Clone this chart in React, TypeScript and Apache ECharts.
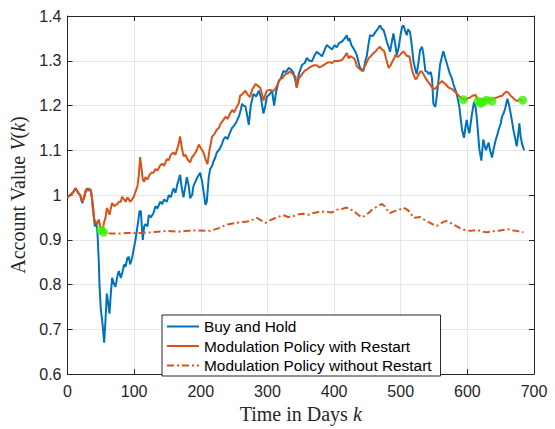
import React, { useEffect, useRef } from "react";
import * as echarts from "echarts";

const xTicks = { min: 0, max: 700, step: 100 };
const yTicks = { min: 0.6, max: 1.4, step: 0.1 };

const seriesNames = [
  "Buy and Hold",
  "Modulation Policy with Restart",
  "Modulation Policy without Restart",
];

const buyHold: [number, number][] = [
  [0, 0.995], [4, 1.0], [8, 1.005], [12, 1.015], [16, 1.005], [19, 1.0], [22, 0.982], [25, 0.995],
  [29, 1.015], [32, 1.01], [35, 1.012], [37, 0.99], [39, 0.965], [41, 0.93], [43, 0.94], [45, 0.915],
  [47, 0.85], [48, 0.8], [50, 0.745], [52, 0.72], [53, 0.705], [55, 0.67], [57, 0.72], [59, 0.78],
  [61, 0.76], [63, 0.735], [65, 0.78], [67, 0.815], [70, 0.8], [72, 0.795], [75, 0.82], [77, 0.83],
  [80, 0.815], [82, 0.825], [85, 0.845], [87, 0.84], [90, 0.86], [92, 0.862], [94, 0.845], [97, 0.86],
  [99, 0.876], [102, 0.9], [104, 0.92], [106, 0.94], [108, 0.963], [110, 0.965], [112, 0.92], [113, 0.9],
  [115, 0.93], [117, 0.935], [120, 0.93], [122, 0.955], [125, 0.95], [129, 0.96], [132, 0.975], [135, 0.97],
  [139, 0.985], [142, 0.98], [145, 0.99], [149, 0.985], [152, 1.0], [155, 0.995], [159, 1.015], [162, 1.005],
  [165, 1.025], [169, 1.045], [171, 1.02], [174, 0.995], [177, 1.02], [179, 1.04], [182, 1.02], [184, 0.993],
  [187, 1.0], [189, 1.02], [192, 1.03], [195, 1.04], [199, 1.05], [202, 1.03], [205, 1.0], [207, 0.978],
  [209, 0.985], [212, 1.04], [214, 1.058], [217, 1.065], [219, 1.075], [222, 1.085], [224, 1.095], [227, 1.1],
  [229, 1.105], [232, 1.115], [234, 1.124], [237, 1.13], [240, 1.125], [244, 1.14], [247, 1.15], [250, 1.155],
  [254, 1.165], [257, 1.175], [260, 1.19], [262, 1.204], [264, 1.2], [267, 1.198], [270, 1.175], [272, 1.157],
  [275, 1.2], [279, 1.226], [283, 1.22], [287, 1.233], [290, 1.22], [294, 1.182], [297, 1.2], [299, 1.219],
  [303, 1.225], [307, 1.233], [310, 1.2], [313, 1.23], [317, 1.255], [320, 1.26], [324, 1.277], [328, 1.275],
  [332, 1.284], [336, 1.28], [339, 1.273], [342, 1.255], [344, 1.24], [347, 1.27], [352, 1.291], [356, 1.295],
  [359, 1.306], [363, 1.3], [367, 1.299], [370, 1.31], [374, 1.32], [378, 1.315], [382, 1.31], [386, 1.325],
  [389, 1.335], [393, 1.33], [397, 1.325], [401, 1.335], [404, 1.33], [408, 1.34], [412, 1.343], [416, 1.35],
  [419, 1.357], [421, 1.345], [423, 1.35], [426, 1.335], [429, 1.328], [432, 1.32], [434, 1.313], [437, 1.295],
  [439, 1.284], [442, 1.28], [444, 1.277], [447, 1.3], [449, 1.31], [452, 1.34], [454, 1.357], [458, 1.355],
  [462, 1.364], [465, 1.37], [469, 1.379], [472, 1.37], [474, 1.37], [477, 1.355], [479, 1.343], [482, 1.33],
  [484, 1.32], [487, 1.345], [489, 1.361], [492, 1.335], [494, 1.313], [497, 1.33], [500, 1.36], [502, 1.375],
  [504, 1.379], [506, 1.37], [509, 1.357], [511, 1.37], [514, 1.364], [517, 1.33], [519, 1.3], [522, 1.28],
  [524, 1.27], [527, 1.3], [529, 1.324], [532, 1.331], [534, 1.315], [537, 1.277], [540, 1.275], [542, 1.27],
  [545, 1.275], [547, 1.26], [549, 1.204], [552, 1.197], [554, 1.22], [557, 1.26], [559, 1.291], [562, 1.31],
  [564, 1.321], [567, 1.305], [569, 1.295], [572, 1.28], [574, 1.27], [577, 1.26], [579, 1.248], [582, 1.235],
  [584, 1.226], [588, 1.197], [590, 1.17], [592, 1.146], [595, 1.128], [597, 1.15], [599, 1.168], [601, 1.15],
  [603, 1.138], [605, 1.16], [607, 1.182], [610, 1.208], [612, 1.2], [614, 1.175], [616, 1.14], [618, 1.102],
  [621, 1.077], [622, 1.095], [624, 1.124], [626, 1.11], [628, 1.1], [630, 1.11], [632, 1.117], [634, 1.1],
  [637, 1.084], [639, 1.1], [642, 1.12], [645, 1.135], [647, 1.146], [650, 1.16], [652, 1.175], [655, 1.185],
  [657, 1.195], [660, 1.215], [662, 1.205], [664, 1.19], [667, 1.165], [669, 1.146], [672, 1.125], [674, 1.109],
  [676, 1.13], [678, 1.16], [680, 1.13], [682, 1.115], [684, 1.106], [685, 1.1],
];

const withRestart: [number, number][] = [
  [0, 0.995], [4, 1.0], [8, 1.005], [12, 1.015], [16, 1.005], [19, 1.0], [22, 0.985], [25, 0.995],
  [27, 1.011], [29, 1.01], [32, 1.015], [35, 1.01], [37, 0.99], [38, 0.971], [40, 0.945], [42, 0.94],
  [44, 0.935], [47, 0.945], [49, 0.93], [51, 0.927], [53, 0.922], [55, 0.94], [57, 0.949], [59, 0.971],
  [61, 0.965], [63, 0.956], [65, 0.97], [67, 0.982], [70, 0.975], [72, 0.978], [75, 0.98], [77, 0.985],
  [80, 0.985], [82, 0.996], [85, 0.99], [87, 0.985], [90, 0.995], [92, 0.99], [94, 0.985], [97, 0.99],
  [99, 0.995], [102, 1.007], [105, 1.02], [107, 1.044], [109, 1.085], [111, 1.06], [113, 1.035], [115, 1.03],
  [117, 1.04], [120, 1.035], [123, 1.045], [126, 1.05], [129, 1.05], [132, 1.058], [135, 1.055], [139, 1.066],
  [142, 1.07], [145, 1.065], [149, 1.08], [152, 1.078], [155, 1.09], [159, 1.095], [162, 1.09], [165, 1.105],
  [167, 1.115], [169, 1.131], [171, 1.11], [174, 1.087], [177, 1.09], [180, 1.08], [184, 1.073], [187, 1.085],
  [190, 1.09], [194, 1.1], [197, 1.113], [200, 1.105], [204, 1.095], [207, 1.08], [210, 1.069], [213, 1.1],
  [217, 1.131], [220, 1.135], [224, 1.146], [227, 1.15], [230, 1.16], [234, 1.168], [237, 1.175], [240, 1.17],
  [244, 1.182], [247, 1.19], [250, 1.185], [254, 1.197], [257, 1.205], [259, 1.222], [262, 1.225], [265, 1.23],
  [267, 1.233], [270, 1.225], [274, 1.219], [277, 1.235], [282, 1.248], [285, 1.245], [289, 1.24], [292, 1.225],
  [294, 1.211], [297, 1.225], [299, 1.233], [304, 1.235], [308, 1.232], [312, 1.237], [316, 1.25], [319, 1.259],
  [323, 1.262], [327, 1.27], [331, 1.272], [334, 1.277], [338, 1.27], [342, 1.265], [344, 1.24], [347, 1.26],
  [352, 1.27], [356, 1.278], [359, 1.28], [363, 1.285], [367, 1.288], [370, 1.29], [374, 1.29], [378, 1.285],
  [382, 1.288], [386, 1.292], [389, 1.295], [393, 1.297], [397, 1.295], [401, 1.3], [404, 1.299], [408, 1.3],
  [412, 1.302], [416, 1.31], [419, 1.317], [422, 1.305], [424, 1.31], [427, 1.308], [429, 1.307], [432, 1.3],
  [434, 1.288], [438, 1.282], [442, 1.277], [445, 1.285], [447, 1.29], [450, 1.3], [452, 1.306], [455, 1.31],
  [459, 1.317], [463, 1.322], [466, 1.328], [469, 1.331], [472, 1.325], [475, 1.322], [478, 1.305], [482, 1.284],
  [485, 1.29], [487, 1.297], [490, 1.305], [492, 1.313], [495, 1.308], [499, 1.313], [502, 1.318], [504, 1.321],
  [507, 1.315], [510, 1.31], [513, 1.31], [517, 1.28], [519, 1.27], [522, 1.259], [524, 1.26], [527, 1.27],
  [530, 1.277], [532, 1.275], [535, 1.268], [537, 1.262], [540, 1.255], [542, 1.251], [545, 1.245], [547, 1.24],
  [550, 1.237], [552, 1.238], [555, 1.243], [557, 1.248], [560, 1.252], [562, 1.255], [565, 1.25], [567, 1.248],
  [570, 1.243], [572, 1.24], [575, 1.238], [577, 1.237], [580, 1.232], [582, 1.23], [585, 1.225], [587, 1.222],
  [590, 1.218], [593, 1.214], [596, 1.213], [600, 1.216], [604, 1.218], [608, 1.222], [612, 1.224], [615, 1.215],
  [618, 1.208], [621, 1.205], [624, 1.21], [627, 1.213], [630, 1.214], [634, 1.215], [638, 1.213], [641, 1.217],
  [644, 1.218], [648, 1.22], [652, 1.222], [656, 1.228], [659, 1.231], [662, 1.228], [665, 1.222], [668, 1.218],
  [672, 1.212], [675, 1.21], [678, 1.214], [681, 1.212], [684, 1.21],
];

const withoutRestartTail: [number, number][] = [
  [53, 0.922], [57, 0.915], [65, 0.914], [75, 0.914], [90, 0.915], [105, 0.915], [120, 0.916], [135, 0.918],
  [150, 0.92], [165, 0.918], [180, 0.92], [195, 0.921], [209, 0.92], [214, 0.92], [225, 0.925], [239, 0.934],
  [250, 0.937], [264, 0.94], [274, 0.942], [284, 0.949], [290, 0.944], [297, 0.938], [303, 0.943], [309, 0.947],
  [316, 0.951], [324, 0.955], [331, 0.951], [339, 0.953], [347, 0.957], [354, 0.958], [362, 0.956], [369, 0.96],
  [377, 0.962], [389, 0.963], [396, 0.961], [404, 0.967], [412, 0.969], [419, 0.972], [424, 0.968], [429, 0.965],
  [436, 0.956], [442, 0.95], [447, 0.955], [452, 0.96], [457, 0.967], [462, 0.972], [467, 0.976], [472, 0.98],
  [476, 0.975], [479, 0.968], [484, 0.96], [489, 0.963], [494, 0.966], [499, 0.968], [504, 0.972], [509, 0.968],
  [514, 0.962], [519, 0.949], [524, 0.95], [529, 0.951], [534, 0.946], [539, 0.942], [544, 0.938], [549, 0.934],
  [554, 0.931], [559, 0.935], [564, 0.94], [569, 0.942], [574, 0.938], [579, 0.934], [584, 0.93], [589, 0.926],
  [594, 0.923], [599, 0.921], [604, 0.92], [609, 0.921], [614, 0.922], [619, 0.92], [624, 0.918], [629, 0.917],
  [634, 0.918], [639, 0.919], [644, 0.919], [649, 0.921], [654, 0.922], [659, 0.924], [664, 0.923], [669, 0.921],
  [674, 0.92], [679, 0.918], [684, 0.917],
];

const restartPoints: [number, number][] = [
  [50, 0.922], [54, 0.917], [594, 1.213], [616, 1.21], [620, 1.205], [623, 1.208], [629, 1.212],
  [637, 1.21], [683, 1.212],
];

const TXT = "#262626";
const SANS = "Liberation Sans";
const SERIF = "Liberation Serif";

function axisBase(extra: any) {
  return {
    type: "value",
    axisLine: { show: true, onZero: false, lineStyle: { color: TXT, width: 1 } },
    axisTick: { show: true, inside: true, length: 5, lineStyle: { color: TXT, width: 1 } },
    ...extra,
  };
}

export default function App() {
  const ref = useRef<HTMLDivElement>(null);
  useEffect(() => {
    const chart = echarts.init(ref.current!, null, { renderer: "svg" });
    const noRestart = [
      ...withRestart.filter((p) => p[0] < withoutRestartTail[0][0]),
      ...withoutRestartTail,
    ];
    const nameRich = {
      r: { fontFamily: SERIF, fontSize: 20, color: TXT },
      i: { fontFamily: SERIF, fontSize: 20, fontStyle: "italic", color: TXT },
    };
    const option: any = {
      animation: false,
      backgroundColor: "#ffffff",
      grid: { left: 67.5, top: 16, width: 466.5, height: 367, containLabel: false },
      xAxis: [
        axisBase({
          min: xTicks.min,
          max: xTicks.max,
          interval: xTicks.step,
          position: "bottom",
          axisLabel: { color: TXT, fontFamily: SANS, fontSize: 16, margin: 9 },
          splitLine: { show: true, lineStyle: { color: "#e6e6e6", width: 1 } },
          name: "{r|Time in Days }{i|k}",
          nameLocation: "middle",
          nameGap: 25,
          nameTextStyle: { rich: nameRich },
        }),
        axisBase({
          min: xTicks.min,
          max: xTicks.max,
          interval: xTicks.step,
          position: "top",
          axisLabel: { show: false },
          splitLine: { show: false },
        }),
      ],
      yAxis: [
        axisBase({
          min: yTicks.min,
          max: yTicks.max,
          interval: yTicks.step,
          position: "left",
          axisLabel: {
            color: TXT,
            fontFamily: SANS,
            fontSize: 16,
            margin: 6,
            formatter: (v: number) => String(Math.round(v * 10) / 10),
          },
          splitLine: { show: true, lineStyle: { color: "#e6e6e6", width: 1 } },
          name: "{r|Account Value }{i|V}{r|(}{i|k}{r|)}",
          nameLocation: "middle",
          nameGap: 39,
          nameTextStyle: { rich: nameRich },
        }),
        axisBase({
          min: yTicks.min,
          max: yTicks.max,
          interval: yTicks.step,
          position: "right",
          axisLabel: { show: false },
          splitLine: { show: false },
        }),
      ],
      legend: {
        data: seriesNames,
        orient: "vertical",
        left: 162,
        top: 315,
        itemWidth: 32,
        itemHeight: 15,
        itemGap: 4.5,
        padding: [4, 9, 3, 4],
        backgroundColor: "#ffffff",
        borderColor: TXT,
        borderWidth: 1,
        borderRadius: 0,
        itemStyle: { opacity: 0 },
        textStyle: { fontFamily: SANS, fontSize: 15.4, color: "#000000", lineHeight: 15 },
      },
      series: [
        {
          name: seriesNames[0],
          type: "line",
          data: buyHold,
          symbol: "none",
          showSymbol: false,
          color: "#0072BD",
          lineStyle: { color: "#0072BD", width: 2 },
          z: 2,
        },
        {
          name: seriesNames[1],
          type: "line",
          data: withRestart,
          symbol: "none",
          showSymbol: false,
          color: "#D95319",
          lineStyle: { color: "#D95319", width: 2 },
          z: 3,
        },
        {
          name: seriesNames[2],
          type: "line",
          data: noRestart,
          symbol: "none",
          showSymbol: false,
          color: "#D95319",
          lineStyle: { color: "#D95319", width: 2, type: [7, 3, 2, 3] },
          z: 4,
        },
        {
          name: "restart",
          type: "scatter",
          data: restartPoints,
          symbol: "circle",
          symbolSize: 9,
          itemStyle: { color: "#3cf000" },
          z: 5,
        },
      ],
    };
    chart.setOption(option);
    return () => chart.dispose();
  }, []);
  return (
    <div
      ref={ref}
      style={{ position: "fixed", left: 0, top: 0, width: 555, height: 429, background: "#fff" }}
    />
  );
}
